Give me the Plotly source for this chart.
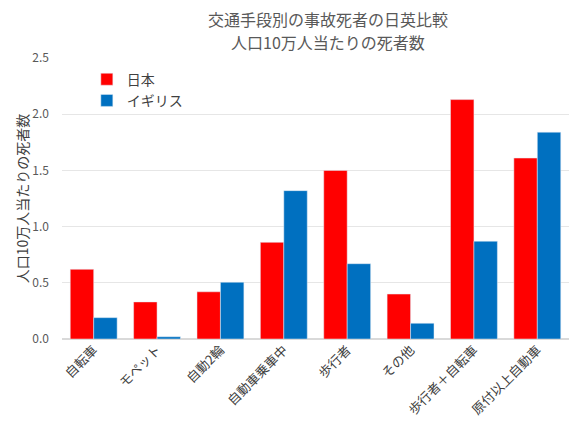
import plotly.graph_objects as go

# カテゴリとデータ(人口10万人当たりの死者数)
categories = ["自転車", "モペット", "自動2輪", "自動車乗車中", "歩行者", "その他", "歩行者＋自転車", "原付以上自動車"]
japan = [0.62, 0.33, 0.42, 0.86, 1.50, 0.40, 2.13, 1.61]
uk = [0.19, 0.02, 0.505, 1.32, 0.67, 0.14, 0.87, 1.84]
y_ticks = [0.0, 0.5, 1.0, 1.5, 2.0, 2.5]
title_lines = ["交通手段別の事故死者の日英比較", "人口10万人当たりの死者数"]

FONT = "Noto Sans CJK JP"

fig = go.Figure()
fig.add_trace(go.Bar(x=categories, y=japan, name="日本", marker_color="#ff0000", legendgroup="jp"))
fig.add_trace(go.Bar(x=categories, y=uk, name="イギリス", marker_color="#0070c0", legendgroup="uk"))

# ページの余白(8px)を考慮してサイズを調整
fig.update_layout(
    width=572,
    height=417,
    margin=dict(l=54, r=11, t=50, b=86),
    plot_bgcolor="white",
    paper_bgcolor="white",
    font=dict(family=FONT, color="#595959"),
    barmode="group",
    bargap=0.26,
    bargroupgap=0,
    legend=dict(
        x=0.049,
        y=0.98,
        xanchor="left",
        yanchor="top",
        bgcolor="rgba(0,0,0,0)",
        font=dict(size=14, color="#404040", family=FONT),
        tracegroupgap=0,
    ),
)

# タイトル(2行)は注釈で配置
for i, line in enumerate(title_lines):
    fig.add_annotation(
        text=line,
        xref="paper",
        yref="paper",
        x=0.524,
        y=1 + (39 - 23 * i) / 281,
        xanchor="center",
        yanchor="middle",
        showarrow=False,
        font=dict(size=16, color="#595959", family=FONT),
    )

fig.update_xaxes(
    tickangle=-45,
    tickfont=dict(size=13, color="#404040", family=FONT),
    showline=False,
    showgrid=False,
    automargin=False,
)
fig.update_yaxes(
    range=[0, 2.5],
    tickvals=y_ticks,
    tickformat=".1f",
    showgrid=True,
    gridcolor="#e6e6e6",
    zeroline=True,
    zerolinecolor="#d9d9d9",
    tickfont=dict(size=12, color="#595959"),
    ticklabelstandoff=12,
    automargin=False,
    title=dict(text="人口10万人当たりの死者数", font=dict(size=14, color="#404040", family=FONT), standoff=0),
)

fig.write_html("out.html")
